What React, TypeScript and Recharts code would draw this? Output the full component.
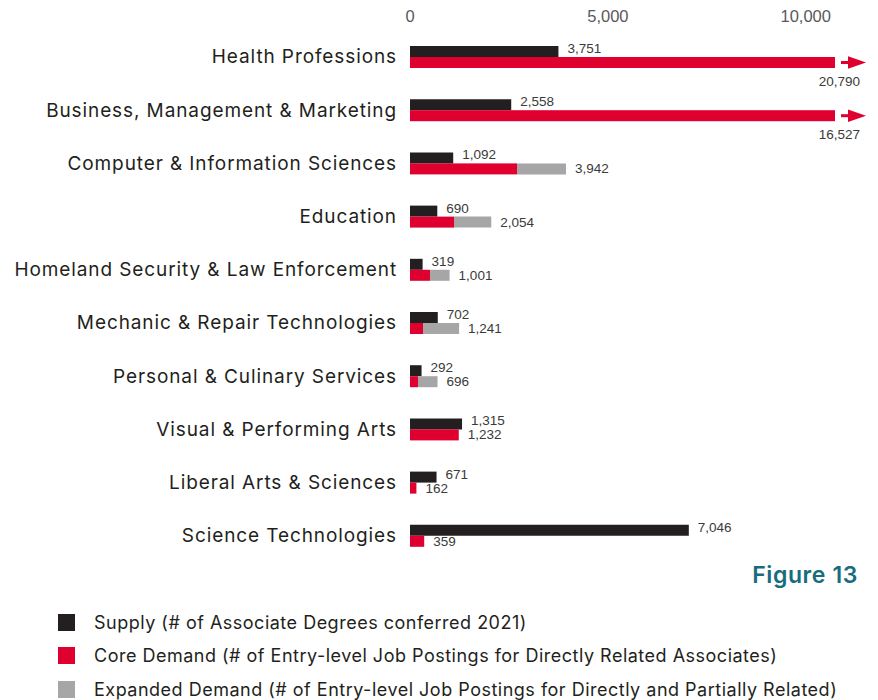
import { BarChart, Bar, XAxis, YAxis, LabelList } from "recharts";

const categories = [
  "Health Professions",
  "Business, Management & Marketing",
  "Computer & Information Sciences",
  "Education",
  "Homeland Security & Law Enforcement",
  "Mechanic & Repair Technologies",
  "Personal & Culinary Services",
  "Visual & Performing Arts",
  "Liberal Arts & Sciences",
  "Science Technologies",
];
const supply = [3751, 2558, 1092, 690, 319, 702, 292, 1315, 671, 7046];
// core demand is not labelled where an expanded figure is shown
const coreDemand = [20790, 16527, 2704, 1112, 505, 329, 202, 1232, 162, 359];
const expandedDemand: (number | null)[] = [null, null, 3942, 2054, 1001, 1241, 696, null, null, null];
const xTicks = [0, 5000, 10000];
const AXIS_MAX = 10740;

const seriesNames = [
  "Supply (# of Associate Degrees conferred 2021)",
  "Core Demand (# of Entry-level Job Postings for Directly Related Associates)",
  "Expanded Demand (# of Entry-level Job Postings for Directly and Partially Related)",
];
const BLACK = "#231f20";
const RED = "#df0030";
const GRAY = "#a6a6a6";
const TEAL = "#176c7d";
const LABEL_FONT = "'Inter', 'Noto Sans', sans-serif";
const NUM_FONT = "'Liberation Sans', Arial, sans-serif";

const rows = categories.map((name, i) => ({
  name,
  supply: supply[i],
  core: Math.min(coreDemand[i], AXIS_MAX),
  extra: expandedDemand[i] != null ? (expandedDemand[i] as number) - coreDemand[i] : 0,
}));

const fmt = (v: number) => v.toLocaleString("en-US");

function box(props: any) {
  const vb = props.viewBox && props.viewBox.x != null ? props.viewBox : props;
  return { x: +vb.x, y: +vb.y, width: +vb.width, height: +vb.height };
}

function CoreBar(props: any) {
  const { x, y, width, height, index } = props;
  const over = coreDemand[index] > AXIS_MAX;
  const cy = y + height / 2;
  const end = x + width;
  return (
    <g>
      <rect x={x} y={y} width={width} height={height} fill={RED} />
      {over && (
        <g>
          <rect x={end + 6} y={cy - 1.5} width={9} height={3} fill={RED} />
          <polygon
            points={`${end + 13},${cy - 6.2} ${end + 31},${cy} ${end + 13},${cy + 6.2}`}
            fill={RED}
          />
        </g>
      )}
    </g>
  );
}

function SupplyLabel(props: any) {
  const { x, y, width, height } = box(props);
  return (
    <text
      x={x + width + 9}
      y={y + height / 2 - 3}
      dominantBaseline="central"
      fontSize={13.5}
      fontFamily={NUM_FONT}
      fill="#3a3a3a"
    >
      {fmt(supply[props.index])}
    </text>
  );
}

// sits on the core bar (every row has one); the expanded end is found from the same px-per-unit
function DemandLabel(props: any) {
  const { x, y, width, height } = box(props);
  const i = props.index;
  const cy = y + height / 2;
  if (coreDemand[i] > AXIS_MAX) {
    return (
      <text
        x={x + width + 25}
        y={cy + 19}
        textAnchor="end"
        dominantBaseline="central"
        fontSize={13.5}
        fontFamily={NUM_FONT}
        fill="#3a3a3a"
      >
        {fmt(coreDemand[i])}
      </text>
    );
  }
  const total = expandedDemand[i] ?? coreDemand[i];
  const end = x + (width * total) / rows[i].core;
  return (
    <text
      x={end + 9}
      y={cy}
      dominantBaseline="central"
      fontSize={13.5}
      fontFamily={NUM_FONT}
      fill="#3a3a3a"
    >
      {fmt(total)}
    </text>
  );
}

export default function App() {
  const colors = [BLACK, RED, GRAY];
  return (
    <div style={{ position: "relative", width: 862, height: 692, fontFamily: LABEL_FONT }}>
      <BarChart
        width={862}
        height={554}
        data={rows}
        layout="vertical"
        margin={{ top: 0, right: 35, bottom: 0, left: 0 }}
        barGap={0}
        barSize={11}
      >
        <XAxis
          type="number"
          orientation="top"
          domain={[0, AXIS_MAX]}
          ticks={xTicks}
          height={22}
          axisLine={false}
          tickLine={false}
          tickSize={0}
          tickMargin={8}
          tickFormatter={fmt}
          tick={{ fill: "#595959", fontSize: 16.5, fontFamily: NUM_FONT }}
        />
        <YAxis
          type="category"
          dataKey="name"
          width={402}
          interval={0}
          axisLine={false}
          tickLine={false}
          tickSize={0}
          tickMargin={13}
          tick={{ fill: BLACK, fontSize: 19, fontFamily: LABEL_FONT, letterSpacing: 0.9 }}
        />
        <Bar dataKey="supply" stackId="s" fill={BLACK} isAnimationActive={false}>
          <LabelList dataKey="supply" content={SupplyLabel} />
        </Bar>
        <Bar dataKey="core" stackId="d" fill={RED} shape={CoreBar} isAnimationActive={false}>
          <LabelList dataKey="core" content={DemandLabel} />
        </Bar>
        <Bar dataKey="extra" stackId="d" fill={GRAY} isAnimationActive={false} />
      </BarChart>
      <div
        style={{
          position: "absolute",
          right: 12,
          top: 553,
          color: TEAL,
          fontSize: 23,
          fontWeight: 600,
          letterSpacing: 0.6,
        }}
      >
        Figure 13
      </div>
      {seriesNames.map((name, i) => (
        <div
          key={name}
          style={{
            position: "absolute",
            left: 50,
            top: 605 + i * 33.5,
            display: "flex",
            alignItems: "center",
            height: 18,
            fontSize: 18,
            letterSpacing: 0.5,
            color: BLACK,
            whiteSpace: "nowrap",
          }}
        >
          <span
            style={{ display: "inline-block", width: 17, height: 17, background: colors[i], marginRight: 19 }}
          />
          {name}
        </div>
      ))}
    </div>
  );
}
